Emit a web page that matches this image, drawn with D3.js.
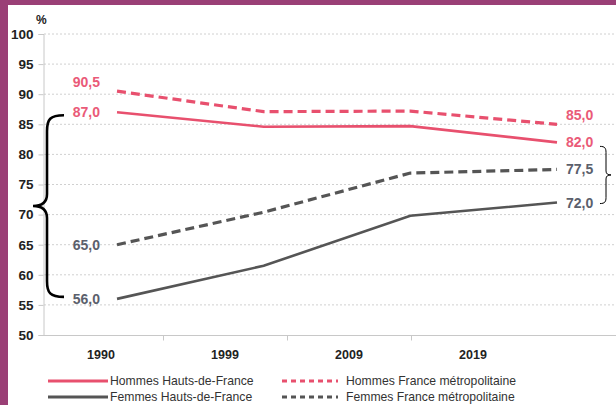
<!DOCTYPE html>
<html>
<head>
<meta charset="utf-8">
<script src="https://cdn.jsdelivr.net/npm/d3@7"></script>
<style>
  body { margin: 0; background: #fff; }
  svg { display: block; font-family: "Liberation Sans", "Open Sans", sans-serif; }
</style>
</head>
<body>
<div id="chart"></div>
<script>
const years = ["1990", "1999", "2009", "2019"];
const hommesHdF = [87.0, 84.6, 84.7, 82.0];
const hommesFrance = [90.5, 87.1, 87.2, 85.0];
const femmesHdF = [56.0, 61.5, 69.8, 72.0];
const femmesFrance = [65.0, 70.4, 76.9, 77.5];
const yTicks = [50, 55, 60, 65, 70, 75, 80, 85, 90, 95, 100];

const W = 616, H = 405;
const pink = "#e8506e", grey = "#555555";
const pinkLabel = "#ea5a78", greyLabel = "#5b606c";

const svg = d3.select("#chart").append("svg")
	.attr("width", W)
	.attr("height", H);

// frame
svg.append("rect").attr("x", 0).attr("y", 0).attr("width", W).attr("height", 5).attr("fill", "#9a3f76");
svg.append("rect").attr("x", 0).attr("y", 0).attr("width", 8).attr("height", H).attr("fill", "#9a3f76");

const y = d3.scaleLinear().domain([50, 100]).range([335, 34]);
const xBand = d3.scaleBand().domain(years).range([39, 535]);
const xLine = d3.scalePoint().domain(years).range([117, 557]);

// grid
svg.append("g").selectAll("line")
	.data(yTicks.filter(d => d > 50))
	.enter().append("line")
	.attr("x1", 44).attr("x2", W)
	.attr("y1", d => y(d)).attr("y2", d => y(d))
	.attr("stroke", "#d0d0d0")
	.attr("stroke-width", 1)
	.attr("stroke-dasharray", "2,2");

// y axis
const yAxis = svg.append("g")
	.attr("transform", "translate(43.5,0)")
	.call(d3.axisLeft(y).tickValues(yTicks).tickSize(5).tickPadding(5));
yAxis.select(".domain").attr("stroke", "#c8c8c8");
yAxis.selectAll(".tick line").attr("stroke", "#c8c8c8");
yAxis.selectAll("text")
	.attr("fill", "#222")
	.style("font-size", "13.5px")
	.style("font-weight", "bold");

svg.append("text")
	.attr("x", 36).attr("y", 24)
	.attr("fill", "#222")
	.style("font-size", "12px")
	.style("font-weight", "bold")
	.text("%");

// x axis
const xAxis = svg.append("g")
	.attr("transform", `translate(0,${y(50) + 0.5})`)
	.call(d3.axisBottom(xBand).tickSize(0).tickPadding(15));
xAxis.select(".domain").attr("d", `M43,0H${W}`).attr("stroke", "#c8c8c8");
xAxis.selectAll("text")
	.attr("fill", "#222")
	.style("font-size", "12.5px")
	.style("font-weight", "bold");
xAxis.selectAll(".sep")
	.data(years.slice(1))
	.enter().append("line")
	.attr("class", "sep")
	.attr("x1", d => xBand(d) + 0.5).attr("x2", d => xBand(d) + 0.5)
	.attr("y1", 0).attr("y2", 5)
	.attr("stroke", "#c8c8c8");

// series (shift = vertical nudge of the end labels)
const series = [
	{ name: "Hommes Hauts-de-France", values: hommesHdF, color: pink, label: pinkLabel, dash: null, shift: 0 },
	{ name: "Hommes France métropolitaine", values: hommesFrance, color: pink, label: pinkLabel, dash: "9,5", shift: -9 },
	{ name: "Femmes Hauts-de-France", values: femmesHdF, color: grey, label: greyLabel, dash: null, shift: 0 },
	{ name: "Femmes France métropolitaine", values: femmesFrance, color: grey, label: greyLabel, dash: "9,5", shift: 0 }
];

const line = d3.line()
	.x((d, i) => xLine(years[i]))
	.y(d => y(d));

const fmt = v => v.toFixed(1).replace(".", ",");

series.forEach(s => {
	svg.append("path")
		.datum(s.values)
		.attr("fill", "none")
		.attr("stroke", s.color)
		.attr("stroke-width", s.dash ? 3.2 : 2.6)
		.attr("stroke-dasharray", s.dash)
		.attr("d", line);

	svg.append("text")
		.attr("x", xLine(years[0]) - 17)
		.attr("y", y(s.values[0]) + 5 + s.shift)
		.attr("text-anchor", "end")
		.attr("fill", s.label)
		.style("font-size", "14px")
		.style("font-weight", "bold")
		.text(fmt(s.values[0]));

	svg.append("text")
		.attr("x", xLine(years[3]) + 9)
		.attr("y", y(s.values[3]) + 5 + s.shift)
		.attr("fill", s.label)
		.style("font-size", "14px")
		.style("font-weight", "bold")
		.text(fmt(s.values[3]));
});

// left brace between 87,0 and 56,0
const lTop = y(hommesHdF[0]) + 3, lBot = y(femmesHdF[0]) - 2, lMid = (lTop + lBot) / 2;
svg.append("path")
	.attr("d", `M64,${lTop} C50,${lTop} 47,${lTop + 4} 47,${lTop + 16} L47,${lMid - 12} C47,${lMid - 4} 42,${lMid} 33,${lMid}` +
		` C42,${lMid} 47,${lMid + 4} 47,${lMid + 12} L47,${lBot - 16} C47,${lBot - 4} 50,${lBot} 64,${lBot}`)
	.attr("fill", "none")
	.attr("stroke", "#000")
	.attr("stroke-width", 2.6);

// right brace between 82,0 and 72,0
const rTop = y(hommesHdF[3]) + 4, rBot = y(femmesHdF[3]) + 1, rMid = (rTop + rBot) / 2;
svg.append("path")
	.attr("d", `M600,${rTop} C605,${rTop} 606,${rTop + 2} 606,${rTop + 6} L606,${rMid - 4} C606,${rMid - 1} 608,${rMid} 611,${rMid}` +
		` C608,${rMid} 606,${rMid + 1} 606,${rMid + 4} L606,${rBot - 6} C606,${rBot - 2} 605,${rBot} 600,${rBot}`)
	.attr("fill", "none")
	.attr("stroke", "#000")
	.attr("stroke-width", 1);

// legend
const legendPos = [
	{ x: 48, y: 385 }, { x: 282, y: 385 },
	{ x: 48, y: 401 }, { x: 282, y: 401 }
];
series.forEach((s, i) => {
	const p = legendPos[i];
	svg.append("line")
		.attr("x1", p.x).attr("x2", p.x + (s.dash ? 56 : 60))
		.attr("y1", p.y - 4).attr("y2", p.y - 4)
		.attr("stroke", s.color)
		.attr("stroke-width", 3)
		.attr("stroke-dasharray", s.dash ? "5,4" : null);
	svg.append("text")
		.attr("x", p.x + (s.dash ? 64 : 62))
		.attr("y", p.y)
		.attr("fill", "#333")
		.style("font-size", "12.2px")
		.text(s.name);
});
</script>
</body>
</html>
